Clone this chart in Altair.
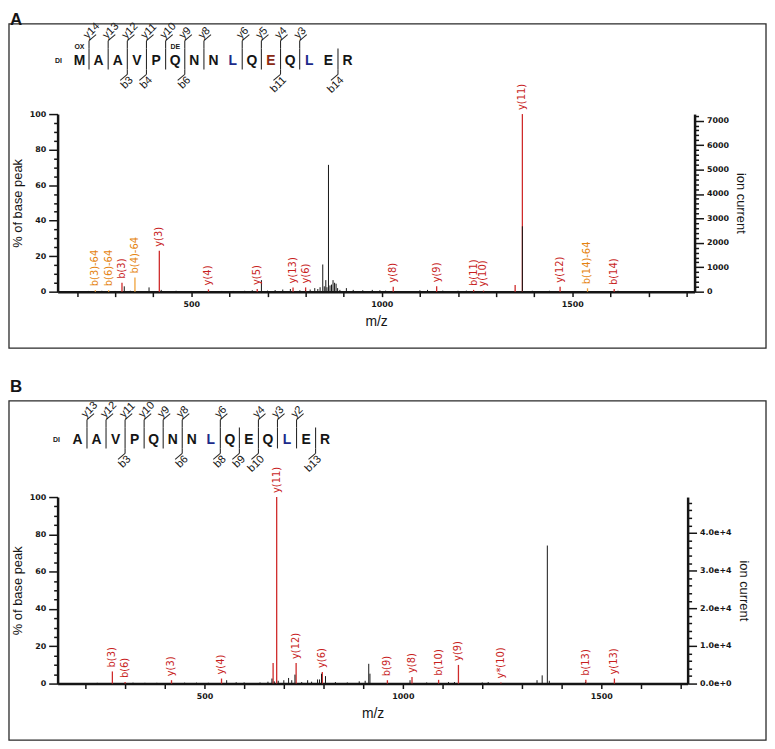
import altair as alt
import pandas as pd

# ---------------- data: panel A ----------------
A_SEQUENCE = list("MAAVPQNNLQEQLER")
A_Y_IONS = [14, 13, 12, 11, 10, 9, 8, 6, 5, 4, 3]
A_B_IONS = [3, 4, 6, 11, 14]
A_MOD_POS = [0, 5]
A_MOD_TEXT = ["OX", "DE"]

A_ION_LABEL = ["b(3)-64", "b(6)-64", "b(3)", "b(4)-64", "y(3)", "y(4)", "y(5)", "y(13)", "y(6)",
               "y(8)", "y(9)", "b(11)", "y(10)", "", "y(11)", "y(12)", "b(14)-64", "b(14)"]
A_ION_MZ = [248, 283, 318, 352, 416, 545, 673, 767, 800, 1030, 1144, 1241, 1267, 1350, 1369,
            1468, 1540, 1610]
A_ION_PCT = [0.8, 0.8, 5.0, 8.0, 23.0, 1.3, 1.5, 2.4, 2.4, 2.8, 3.0, 1.0, 0.6, 3.7, 100.0,
             2.8, 1.9, 1.5]
A_ION_KIND = ["loss", "loss", "ion", "loss", "ion", "ion", "ion", "ion", "ion", "ion", "ion",
              "ion", "ion", "ion", "ion", "ion", "loss", "ion"]

A_OTHER_MZ = [230, 265, 300, 324, 340, 389, 421, 460, 500, 580, 610, 640, 660, 684, 700, 720,
              740, 760, 785, 800, 812, 824, 832, 838, 845, 849, 853, 856, 860, 864, 868, 872,
              876, 880, 884, 890, 907, 925, 950, 975, 995, 1010, 1100, 1120, 1160, 1200, 1222,
              1369, 1395, 1440, 1620]
A_OTHER_PCT = [0.4, 0.5, 0.4, 3.0, 0.5, 2.4, 1.0, 0.5, 0.4, 0.4, 0.4, 0.5, 0.8, 6.5, 0.6, 0.9,
               1.2, 1.5, 0.8, 0.6, 1.2, 2.0, 1.5, 2.5, 15.3, 3.0, 6.5, 2.5, 71.4, 3.5, 4.0, 6.5,
               5.0, 4.5, 2.0, 1.0, 2.0, 1.0, 0.8, 1.0, 0.8, 0.6, 0.8, 1.0, 0.6, 0.5, 0.6,
               36.8, 0.5, 0.5, 0.5]
A_BASE_PEAK = 7270

# ---------------- data: panel B ----------------
B_SEQUENCE = list("AAVPQNNLQEQLER")
B_Y_IONS = [13, 12, 11, 10, 9, 8, 6, 4, 3, 2]
B_B_IONS = [3, 6, 8, 9, 10, 13]
B_MOD_POS = []
B_MOD_TEXT = []

B_ION_LABEL = ["b(3)", "b(6)", "y(3)", "y(4)", "", "y(11)", "y(12)", "y(6)", "b(9)", "y(8)",
               "b(10)", "y(9)", "y*(10)", "b(13)", "y(13)"]
B_ION_MZ = [268, 300, 417, 543, 673, 682, 731, 797, 961, 1023, 1090, 1140, 1247, 1461, 1533]
B_ION_PCT = [6.5, 0.8, 1.8, 2.7, 11.0, 100.0, 11.0, 6.2, 1.8, 3.5, 2.0, 10.0, 0.6, 2.0, 2.7]
B_ION_KIND = ["ion"] * 15

B_OTHER_MZ = [230, 320, 350, 380, 450, 480, 510, 556, 580, 600, 640, 660, 670, 676, 686, 700,
              712, 720, 728, 745, 760, 770, 785, 790, 795, 805, 830, 860, 890, 905, 914, 917,
              1018, 1060, 1115, 1130, 1200, 1215, 1338, 1351, 1364, 1369, 1460]
B_OTHER_PCT = [0.4, 0.5, 0.4, 0.4, 0.5, 0.5, 0.4, 1.8, 0.7, 0.6, 0.6, 1.0, 2.7, 1.2, 1.5, 1.8,
               3.0, 1.8, 4.8, 0.8, 1.8, 1.0, 2.2, 2.2, 5.3, 4.0, 0.8, 0.6, 1.2, 1.5, 10.6, 5.3,
               1.8, 0.6, 0.8, 0.8, 0.6, 0.8, 1.8, 4.4, 74.0, 1.5, 0.6]
B_BASE_PEAK = 49550

# ---------------- styles ----------------
FONT = "Liberation Sans"
TICK_FONT = "DejaVu Sans"
INK = "#151515"
RED_TXT = "#c81e1e"
ORANGE_TXT = "#e5830f"
RED_LINE = "#cf2b2b"
ORANGE_LINE = "#f0a23a"
RESIDUE_COLORS = {"L": "#1c2a8a"}
A_HIGHLIGHT = {10: "#8a2a14"}
FLAG = 0.37  # flag length in residue units


def make_panel(tag, seq, y_ions, b_ions, mod_pos, mod_text, ion_label, ion_mz, ion_pct,
               ion_kind, other_mz, other_pct, base_peak, highlight, *, width, height,
               mz_domain, mz_ticks, res_domain, letter_y, tag_y, frame_top, frame_bottom,
               ion_step, ion_major, ion_label_expr):
    n = len(seq)
    L = letter_y

    def rx(field):
        return alt.X(f"{field}:Q", scale=alt.Scale(domain=res_domain, nice=False, zero=False),
                     axis=None)

    colors = [highlight.get(i, RESIDUE_COLORS.get(r, INK)) for i, r in enumerate(seq)]
    res_df = pd.DataFrame({"pos": list(range(n)), "res": seq, "col": colors})
    y_sep = [n - k - 0.5 for k in y_ions]
    b_sep = [k - 0.5 for k in b_ions]
    ydf = pd.DataFrame({"s": y_sep, "lab": [f"y{k}" for k in y_ions]})
    ydf["s2"] = ydf["s"] + FLAG
    bdf = pd.DataFrame({"s": b_sep, "lab": [f"b{k}" for k in b_ions]})
    bdf["s2"] = bdf["s"] - FLAG
    sep_df = pd.DataFrame({"s": sorted(set(y_sep) | set(b_sep))})
    one = pd.DataFrame({"t": [tag]})

    letters = alt.Chart(res_df).mark_text(font=FONT, fontSize=14, fontWeight="bold").encode(
        x=rx("pos"), y=alt.value(L), text="res:N", color=alt.Color("col:N", scale=None))
    di = alt.Chart(pd.DataFrame({"pos": [-1.1], "t": ["DI"]})).mark_text(
        font=FONT, fontSize=7, fontWeight="bold", color=INK).encode(
        x=rx("pos"), y=alt.value(L), text="t:N")
    rule_kw = dict(color="#2a2a2a", strokeWidth=1.1)
    core = alt.Chart(sep_df).mark_rule(**rule_kw).encode(
        x=rx("s"), y=alt.value(L - 13), y2=alt.value(L + 8))
    yext = alt.Chart(ydf).mark_rule(**rule_kw).encode(
        x=rx("s"), y=alt.value(L - 21), y2=alt.value(L - 13))
    bext = alt.Chart(bdf).mark_rule(**rule_kw).encode(
        x=rx("s"), y=alt.value(L + 8), y2=alt.value(L + 13))
    yflag = alt.Chart(ydf).mark_rule(**rule_kw).encode(
        x=rx("s"), x2="s2:Q", y=alt.value(L - 21), y2=alt.value(L - 27))
    bflag = alt.Chart(bdf).mark_rule(**rule_kw).encode(
        x=rx("s"), x2="s2:Q", y=alt.value(L + 13), y2=alt.value(L + 19))
    ylab = alt.Chart(ydf).mark_text(angle=315, align="left", baseline="bottom", font=FONT,
                                    fontSize=11, color=INK, dx=0).encode(
        x=rx("s"), y=alt.value(L - 21), text="lab:N")
    blab = alt.Chart(bdf).mark_text(angle=315, align="right", baseline="top", font=FONT,
                                    fontSize=11, color=INK, dx=0).encode(
        x=rx("s"), y=alt.value(L + 13), text="lab:N")
    layers = [letters, di, core, yext, bext, yflag, bflag, ylab, blab]
    if mod_pos:
        mods = alt.Chart(pd.DataFrame({"pos": mod_pos, "t": mod_text})).mark_text(
            font=FONT, fontSize=7, fontWeight="bold", color=INK).encode(
            x=rx("pos"), y=alt.value(L - 15), text="t:N")
        layers.append(mods)
    frame = alt.Chart(one).mark_rect(fillOpacity=0, stroke="#2a2a2a", strokeWidth=1.3).encode(
        x=alt.value(-49), x2=alt.value(714), y=alt.value(frame_top), y2=alt.value(frame_bottom))
    tag_mark = alt.Chart(one).mark_text(font=FONT, fontSize=17, fontWeight="bold", align="left",
                                        baseline="top", color=INK).encode(
        x=alt.value(-48), y=alt.value(tag_y), text="t:N")
    layers += [frame, tag_mark]
    ann = alt.layer(*layers)

    # ---- spectrum ----
    ions = pd.DataFrame({"mz": ion_mz, "pct": ion_pct, "label": ion_label, "kind": ion_kind})
    other = pd.DataFrame({"mz": other_mz, "pct": other_pct})
    x_axis = alt.Axis(values=mz_ticks, format="d",
                      labelExpr="datum.value % 500 === 0 ? datum.label : ''",
                      labelOverlap=False, tickSize=5, tickWidth=1.5, tickColor=INK,
                      domainColor=INK, domainWidth=2.5, labelFont=TICK_FONT,
                      labelFontWeight="bold", labelFontSize=8, labelColor=INK, labelPadding=4,
                      title="m/z", titleFont=FONT, titleFontSize=14, titleFontWeight="normal",
                      titleColor=INK, titlePadding=6, grid=False)
    y_axis = alt.Axis(values=list(range(0, 101, 5)),
                      labelExpr="datum.value % 20 === 0 ? datum.label : ''",
                      labelOverlap=False,
                      tickSize={"condition": {"test": "datum.value % 20 === 0", "value": 9},
                                "value": 4},
                      tickWidth=1.5, tickColor=INK, domainColor=INK, domainWidth=2.5,
                      labelFont=TICK_FONT, labelFontWeight="bold", labelFontSize=8,
                      labelColor=INK, labelPadding=3, title="% of base peak", titleFont=FONT,
                      titleFontSize=13, titleFontWeight="normal", titleColor=INK,
                      titlePadding=5, grid=False)

    def mzx():
        return alt.X("mz:Q", scale=alt.Scale(domain=mz_domain, nice=False, zero=False),
                     axis=x_axis)

    def py():
        return alt.Y("pct:Q", scale=alt.Scale(domain=[0, 100], nice=False, zero=True),
                     axis=y_axis)

    ion_rules = alt.Chart(ions).mark_rule(strokeWidth=1.3).encode(
        x=mzx(), y=py(), y2=alt.datum(0),
        color=alt.Color("kind:N", scale=alt.Scale(domain=["ion", "loss"],
                                                  range=[RED_LINE, ORANGE_LINE]), legend=None))
    other_rules = alt.Chart(other).mark_rule(color=INK, strokeWidth=1).encode(
        x=mzx(), y=py(), y2=alt.datum(0))
    ion_text = alt.Chart(ions).mark_text(angle=270, align="left", baseline="middle", dx=4,
                                         font=TICK_FONT, fontSize=10).encode(
        x=mzx(), y=py(), text="label:N",
        color=alt.Color("kind:N", scale=alt.Scale(domain=["ion", "loss"],
                                                  range=[RED_TXT, ORANGE_TXT]), legend=None))
    spec = alt.layer(ion_rules, other_rules, ion_text).resolve_scale(color="independent")

    # ---- ion current axis ----
    ion_vals = list(range(0, int(base_peak) + 1, ion_step))
    ion_axis = alt.Axis(orient="right", values=ion_vals, labelExpr=ion_label_expr,
                        labelOverlap=False,
                        tickSize={"condition": {"test": f"datum.value % {ion_major} === 0",
                                                "value": 9}, "value": 4},
                        tickWidth=1.5, tickColor=INK, domainColor=INK, domainWidth=2.5,
                        labelFont=TICK_FONT, labelFontWeight="bold", labelFontSize=8,
                        labelColor=INK, labelPadding=3, title="ion current", titleFont=FONT,
                        titleFontSize=13, titleFontWeight="normal", titleColor=INK,
                        titlePadding=5, grid=False)
    ion_df = pd.DataFrame({"ion": [0, base_peak]})
    ion_layer = alt.Chart(ion_df).mark_rule(opacity=0).encode(
        y=alt.Y("ion:Q", scale=alt.Scale(domain=[0, base_peak], nice=False), axis=ion_axis))

    return alt.layer(ann, spec, ion_layer).resolve_scale(
        x="independent", y="independent").properties(width=width, height=height)


panel_a = make_panel(
    "A", A_SEQUENCE, A_Y_IONS, A_B_IONS, A_MOD_POS, A_MOD_TEXT, A_ION_LABEL, A_ION_MZ,
    A_ION_PCT, A_ION_KIND, A_OTHER_MZ, A_OTHER_PCT, A_BASE_PEAK, A_HIGHLIGHT,
    width=642, height=179, mz_domain=[149, 1821], mz_ticks=list(range(200, 1801, 100)),
    res_domain=[-1.14, 32.12], letter_y=-53, tag_y=-103, frame_top=-91, frame_bottom=236,
    ion_step=200, ion_major=1000,
    ion_label_expr="datum.value % 1000 === 0 ? format(datum.value, 'd') : ''")

panel_b = make_panel(
    "B", B_SEQUENCE, B_Y_IONS, B_B_IONS, B_MOD_POS, B_MOD_TEXT, B_ION_LABEL, B_ION_MZ,
    B_ION_PCT, B_ION_KIND, B_OTHER_MZ, B_OTHER_PCT, B_BASE_PEAK, {},
    width=635, height=188, mz_domain=[130, 1717.5], mz_ticks=list(range(200, 1701, 100)),
    res_domain=[-1.042, 32.03], letter_y=-57, tag_y=-119, frame_top=-97, frame_bottom=245,
    ion_step=2000, ion_major=10000,
    ion_label_expr="datum.value % 10000 === 0 ? format(datum.value, '.1e') : ''")

chart = alt.vconcat(panel_a, panel_b, spacing=29).properties(padding=0).configure_view(
    stroke=None)

chart.save("out.html", embed_options={"renderer": "svg", "actions": False})
